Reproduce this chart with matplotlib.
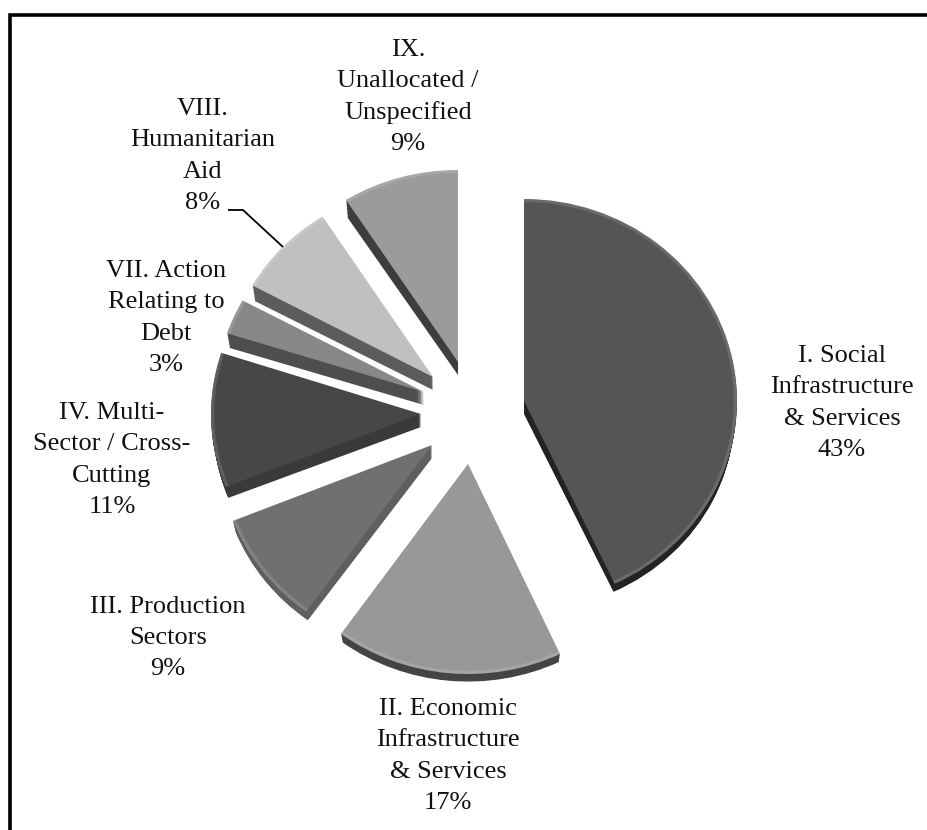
import matplotlib
matplotlib.use("Agg")
import matplotlib.pyplot as plt
from matplotlib.transforms import Affine2D

# Data
labels = ["I. Social\nInfrastructure\n& Services",
          "II. Economic\nInfrastructure\n& Services",
          "III. Production\nSectors",
          "IV. Multi-\nSector / Cross-\nCutting",
          "VII. Action\nRelating to\nDebt",
          "VIII.\nHumanitarian\nAid",
          "IX.\nUnallocated /\nUnspecified"]
shares = [43, 17, 9, 11, 3, 8, 9]

# Layout (pixels) and styles
apex_x = [524, 468, 432, 421, 424, 433, 458]
apex_y = [401, 464, 445, 414, 392, 377, 362]
rad_x = [213, 216, 214, 210, 207, 206, 209]
rad_y = [202, 210, 206, 198, 190, 190, 192]
top_col = ["#555555", "#989898", "#707070", "#474747", "#888888", "#c0c0c0", "#9b9b9b"]
side_col = ["#232323", "#444444", "#5f5f5f", "#3a3a3a", "#4e4e4e", "#5c5c5c", "#3d3d3d"]
label_x = [842, 448, 168, 112, 166, 203, 408]
label_y = [403, 756, 638, 460, 318, 156, 97]
DEPTH = 13

plt.rcParams["font.family"] = ["Liberation Serif", "DejaVu Serif"]
fig = plt.figure(figsize=(9.27, 8.30), dpi=100, facecolor="white")
ax = fig.add_axes([0, 0, 1, 1])


def slice_tf(i, shift=0.0, shrink=0.0):
    return (Affine2D().scale(rad_x[i] - shrink * 0.5, -(rad_y[i] - shrink))
            .translate(apex_x[i], apex_y[i] + shift) + ax.transData)


# extrusion: stacked copies of the pie, from the bottom layer up
for d in range(DEPTH, 0, -1):
    wedges, _ = ax.pie(shares, startangle=90, counterclock=False, colors=side_col,
                       wedgeprops={"linewidth": 0})
    for i, w in enumerate(wedges):
        w.set_transform(slice_tf(i, shift=d, shrink=d * 0.42))

wedges, _ = ax.pie(shares, startangle=90, counterclock=False, colors=top_col,
                   wedgeprops={"linewidth": 0})
for i, w in enumerate(wedges):
    w.set_transform(slice_tf(i))

# faint lighter bevel along each outer rim
rims, _ = ax.pie(shares, startangle=90, counterclock=False, colors=["white"] * len(shares),
                 wedgeprops={"linewidth": 0, "width": 0.015, "alpha": 0.13})
for i, w in enumerate(rims):
    w.set_transform(slice_tf(i))

ax.set_aspect("auto")
ax.set_xlim(0, 927)
ax.set_ylim(830, 0)
ax.axis("off")

for txt, x, y, s in zip(labels, label_x, label_y, shares):
    ax.text(x, y, f"{txt}\n{s}%", ha="center", va="center", fontsize=19,
            color="#111111", linespacing=1.53, multialignment="center")

# leader line for VIII
ax.plot([228, 243, 283], [210, 210, 247], color="black", lw=1.3, solid_capstyle="butt")
# chart border
ax.plot([10, 10, 927], [830, 15.5, 15.5], color="black", lw=2.6,
        solid_joinstyle="miter", solid_capstyle="butt", clip_on=False)

fig.savefig("out.png", dpi=100, facecolor="white")
